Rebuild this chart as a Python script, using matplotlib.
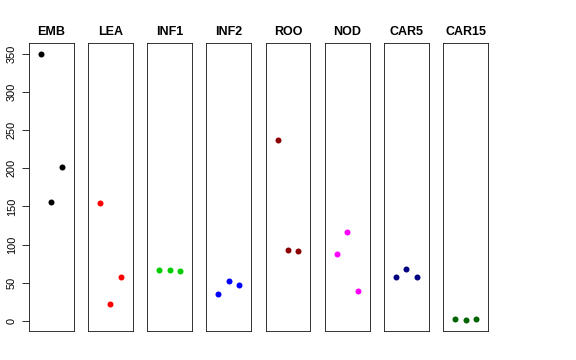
import matplotlib
matplotlib.use("Agg")
import matplotlib.pyplot as plt

plt.rcParams["font.family"] = ["Liberation Sans", "DejaVu Sans"]

# tissue panels, three replicates each
tissues = ["EMB", "LEA", "INF1", "INF2", "ROO", "NOD", "CAR5", "CAR15"]
replicate = [1, 2, 3]
values = [
    [350, 156, 202],
    [154, 22, 58],
    [66, 66, 65],
    [35, 52, 47],
    [237, 93, 91],
    [88, 116, 39],
    [57, 68, 57],
    [2, 1, 2],
]
colors = ["black", "#FF0000", "#00CD00", "#0000FF", "#8B0000",
          "#FF00FF", "#000080", "#006400"]
yticks = [0, 50, 100, 150, 200, 250, 300, 350]

fig, axes = plt.subplots(1, len(tissues), figsize=(8, 5), dpi=72)
fig.subplots_adjust(left=0.0503, right=0.847, bottom=0.0806, top=0.8806,
                    wspace=0.324)

for i, (ax, name, vals, col) in enumerate(zip(axes, tissues, values, colors)):
    ax.scatter(replicate, vals, s=36, color=col, linewidths=0, zorder=3)
    ax.set_xlim(-0.16, 4.16)
    ax.set_ylim(-13.5, 364.5)
    ax.set_title(name, fontsize=12.5, fontweight="bold", pad=8)
    ax.set_xticks([])
    for sp in ax.spines.values():
        sp.set_linewidth(0.9)
        sp.set_color("#222222")
    if i == 0:
        ax.set_yticks(yticks)
        ax.set_yticklabels([str(t) for t in yticks], rotation=90,
                           va="center", fontsize=11)
        ax.tick_params(axis="y", length=7, width=0.8, pad=5)
    else:
        ax.set_yticks([])

fig.savefig("out.png", dpi=72)
